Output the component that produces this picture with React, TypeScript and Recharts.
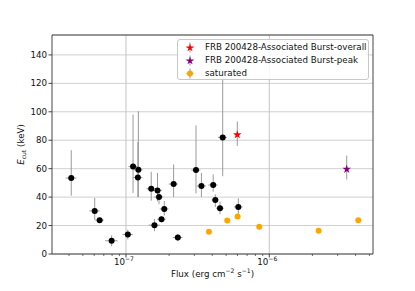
import React from 'react';
import { ScatterChart, Scatter, XAxis, YAxis, CartesianGrid, ErrorBar, ReferenceLine, Legend } from 'recharts';

const FONT = '"DejaVu Sans", sans-serif';

// Burst points (black)
const blackFlux = [4.15e-8, 6.05e-8, 6.55e-8, 7.94e-8, 1.03e-7, 1.12e-7, 1.21e-7, 1.22e-7, 1.5e-7, 1.58e-7, 1.66e-7, 1.7e-7, 1.77e-7, 1.85e-7, 2.15e-7, 2.3e-7, 3.08e-7, 3.36e-7, 4.06e-7, 4.2e-7, 4.53e-7, 4.73e-7, 6.08e-7];
const blackEcut = [53.4, 30.3, 23.8, 9.3, 13.7, 61.5, 53.8, 59.2, 45.9, 20.3, 44.7, 40.1, 24.5, 31.7, 49.2, 11.6, 59.0, 47.8, 48.5, 38.0, 32.2, 82.0, 33.1];
const blackEcutErrUp = [19.6, 9.1, 1.8, 3.8, 3.5, 36.5, 24.9, 41.2, 11.9, 4.4, 12.3, 4.9, 2.2, 5.6, 13.8, 2.6, 31.4, 9.2, 7.5, 4.0, 4.6, 43.0, 6.1];
const blackEcutErrLow = [12.4, 6.3, 1.8, 3.8, 3.5, 18.5, 13.8, 19.2, 8.4, 4.3, 7.7, 5.1, 2.2, 4.7, 9.2, 2.6, 16.3, 7.8, 4.7, 5.0, 4.2, 27.3, 6.1];
const blackFluxErr = [3.6e-9, 5.0e-9, 4.5e-9, 8.0e-9, 8.5e-9, 8.0e-9, 9.0e-9, 8.5e-9, 1.1e-8, 1.4e-8, 1.2e-8, 1.2e-8, 1.2e-8, 1.3e-8, 1.6e-8, 1.8e-8, 2.2e-8, 2.5e-8, 3.0e-8, 2.5e-8, 2.8e-8, 3.5e-8, 4.2e-8];

// FRB 200428-associated burst
const overallFlux = [5.98e-7];
const overallEcut = [83.9];
const overallErrUp = [9.3];
const overallErrLow = [7.9];
const overallFluxErr = [2.5e-8];

const peakFlux = [3.47e-6];
const peakEcut = [59.6];
const peakErrUp = [9.6];
const peakErrLow = [7.2];
const peakFluxErr = [1.0e-7];

// saturated
const satFlux = [3.79e-7, 5.09e-7, 6.01e-7, 8.51e-7, 2.21e-6, 4.18e-6];
const satEcut = [15.6, 23.5, 26.3, 19.1, 16.3, 23.8];

const xMajorTicks = [1e-7, 1e-6];
const xMajorExponents = ['\u22127', '\u22126'];
const xMinorTicks = [4e-8, 5e-8, 6e-8, 7e-8, 8e-8, 9e-8, 2e-7, 3e-7, 4e-7, 5e-7, 6e-7, 7e-7, 8e-7, 9e-7, 2e-6, 3e-6, 4e-6, 5e-6];
const yTicks = [0, 20, 40, 60, 80, 100, 120, 140];
const xDomain = [3.046e-8, 5.293e-6];
const yDomain = [0, 154];

const legendLabels = ['FRB 200428-Associated Burst-overall', 'FRB 200428-Associated Burst-peak', 'saturated'];
const legendColors = ['#ff0000', '#800080', '#ffa500'];
const legendShapes = ['star', 'star', 'circle'];

const blackData = blackFlux.map((f, i) => ({ flux: f, ecut: blackEcut[i], ey: [blackEcutErrLow[i], blackEcutErrUp[i]], ex: blackFluxErr[i] }));
const overallData = overallFlux.map((f, i) => ({ flux: f, ecut: overallEcut[i], ey: [overallErrLow[i], overallErrUp[i]], ex: overallFluxErr[i] }));
const peakData = peakFlux.map((f, i) => ({ flux: f, ecut: peakEcut[i], ey: [peakErrLow[i], peakErrUp[i]], ex: peakFluxErr[i] }));
const satData = satFlux.map((f, i) => ({ flux: f, ecut: satEcut[i] }));

const ERR = '#9a9a9a';

function starPath(cx: number, cy: number, R: number) {
  let d = '';
  for (let i = 0; i < 10; i++) {
    const r = i % 2 === 0 ? R : R * 0.382;
    const a = -Math.PI / 2 + (i * Math.PI) / 5;
    d += (i === 0 ? 'M' : 'L') + (cx + r * Math.cos(a)).toFixed(2) + ',' + (cy + r * Math.sin(a)).toFixed(2);
  }
  return d + 'Z';
}

const dotShape = (color: string, r: number) => (props: any) => (
  <circle cx={props.cx} cy={props.cy} r={r} fill={color} />
);
const starShape = (color: string, R: number) => (props: any) => (
  <path d={starPath(props.cx, props.cy, R)} fill={color} />
);

const XTick = (props: any) => {
  const { x, y, payload } = props;
  const idx = xMajorTicks.indexOf(payload.value);
  const major = idx >= 0;
  return (
    <g>
      <line x1={x} x2={x} y1={y} y2={y + (major ? 3.5 : 2)} stroke="#333" strokeWidth={major ? 0.9 : 0.7} />
      {major && (
        <text x={x - 2} y={y + 11} textAnchor="middle" fontFamily={FONT} fontSize={8.7} fill="#111">
          10
          <tspan dy={-4} fontSize={6.1}>{xMajorExponents[idx]}</tspan>
        </text>
      )}
    </g>
  );
};

const YLabel = (props: any) => {
  const vb = props.viewBox || { x: 0, y: 35, width: 52, height: 219 };
  const cx = vb.x + 24;
  const cy = vb.y + vb.height / 2;
  return (
    <text x={cx} y={cy} transform={`rotate(-90 ${cx} ${cy})`} textAnchor="middle" fontFamily={FONT} fontSize={8.7} fill="#111">
      <tspan fontStyle="italic">E</tspan>
      <tspan fontSize={6.1} dy={2}>cut</tspan>
      <tspan dy={-2}> (keV)</tspan>
    </text>
  );
};

const XLabel = (props: any) => {
  const vb = props.viewBox || { x: 52, y: 254, width: 321, height: 37 };
  const cx = vb.x + vb.width / 2;
  const y = vb.y + 23;
  return (
    <text x={cx} y={y} textAnchor="middle" fontFamily={FONT} fontSize={8.7} fill="#111">
      Flux (erg cm
      <tspan dy={-4} fontSize={6.1}>{'\u22122'}</tspan>
      <tspan dy={4}> s</tspan>
      <tspan dy={-4} fontSize={6.1}>{'\u22121'}</tspan>
      <tspan dy={4}>)</tspan>
    </text>
  );
};

const LegendContent = () => (
  <div
    style={{
      boxSizing: 'border-box',
      width: 192,
      height: 41,
      border: '1px solid #c8c8c8',
      borderRadius: 3,
      background: 'rgba(255,255,255,0.85)',
      paddingTop: 1,
      fontFamily: FONT,
      fontSize: 8.7,
      color: '#111',
    }}
  >
    {legendLabels.map((label, i) => (
      <div key={label} style={{ display: 'flex', alignItems: 'center', height: 12.8 }}>
        <svg width={27} height={13} style={{ flex: 'none' }}>
          <line x1={8.5} x2={15.5} y1={6.5} y2={6.5} stroke={ERR} strokeWidth={1} />
          <line x1={12} x2={12} y1={1.5} y2={11.5} stroke={ERR} strokeWidth={1} />
          {legendShapes[i] === 'star' ? (
            <path d={starPath(12, 6.8, 4.3)} fill={legendColors[i]} />
          ) : (
            <circle cx={12} cy={6.5} r={3} fill={legendColors[i]} />
          )}
        </svg>
        <span style={{ whiteSpace: 'nowrap', lineHeight: '13px' }}>{label}</span>
      </div>
    ))}
  </div>
);

export default function App() {
  return (
    <div style={{ position: 'absolute', left: 0, top: 0, width: 415, height: 291, background: '#fff' }}>
      <ScatterChart width={415} height={291} margin={{ top: 35, right: 42, bottom: 0, left: 0 }}>
        <CartesianGrid vertical={false} stroke="#d0d0d0" strokeWidth={1} />
        <ReferenceLine x={xMajorTicks[0]} stroke="#c4c4c4" strokeWidth={1} ifOverflow="visible" />
        <ReferenceLine x={xMajorTicks[1]} stroke="#c4c4c4" strokeWidth={1} ifOverflow="visible" />
        <XAxis
          dataKey="flux"
          type="number"
          scale="log"
          domain={xDomain}
          allowDataOverflow
          ticks={[...xMajorTicks, ...xMinorTicks]}
          interval={0}
          tickSize={0}
          tickMargin={0}
          tickLine={false}
          tick={<XTick />}
          height={37}
          axisLine={{ stroke: '#444', strokeWidth: 1 }}
          label={<XLabel />}
        />
        <YAxis
          dataKey="ecut"
          type="number"
          domain={yDomain}
          allowDataOverflow
          ticks={yTicks}
          interval={0}
          width={52}
          tickSize={3.5}
          tickMargin={1.5}
          tickLine={{ stroke: '#333', strokeWidth: 0.9 }}
          axisLine={{ stroke: '#444', strokeWidth: 1 }}
          tick={{ fontFamily: FONT, fontSize: 8.7, fill: '#111' }}
          label={<YLabel />}
        />
        <ReferenceLine y={yDomain[1]} stroke="#444" strokeWidth={1} ifOverflow="visible" />
        <ReferenceLine x={xDomain[1]} stroke="#444" strokeWidth={1} ifOverflow="visible" />
        <Scatter data={blackData} shape={dotShape('#000', 3)} isAnimationActive={false}>
          <ErrorBar dataKey="ey" direction="y" width={0} stroke={ERR} strokeWidth={1} isAnimationActive={false} />
          <ErrorBar dataKey="ex" direction="x" width={0} stroke={ERR} strokeWidth={1} isAnimationActive={false} />
        </Scatter>
        <Scatter data={overallData} shape={starShape('#ff0000', 4.5)} isAnimationActive={false}>
          <ErrorBar dataKey="ey" direction="y" width={0} stroke={ERR} strokeWidth={1} isAnimationActive={false} />
          <ErrorBar dataKey="ex" direction="x" width={0} stroke={ERR} strokeWidth={1} isAnimationActive={false} />
        </Scatter>
        <Scatter data={peakData} shape={starShape('#800080', 4.5)} isAnimationActive={false}>
          <ErrorBar dataKey="ey" direction="y" width={0} stroke={ERR} strokeWidth={1} isAnimationActive={false} />
          <ErrorBar dataKey="ex" direction="x" width={0} stroke={ERR} strokeWidth={1} isAnimationActive={false} />
        </Scatter>
        <Scatter data={satData} shape={dotShape('#ffa500', 3)} isAnimationActive={false} />
        <Legend
          layout="vertical"
          align="center"
          verticalAlign="middle"
          content={<LegendContent />}
          wrapperStyle={{ left: 177, top: 39, width: 192, height: 41 }}
        />
      </ScatterChart>
    </div>
  );
}
